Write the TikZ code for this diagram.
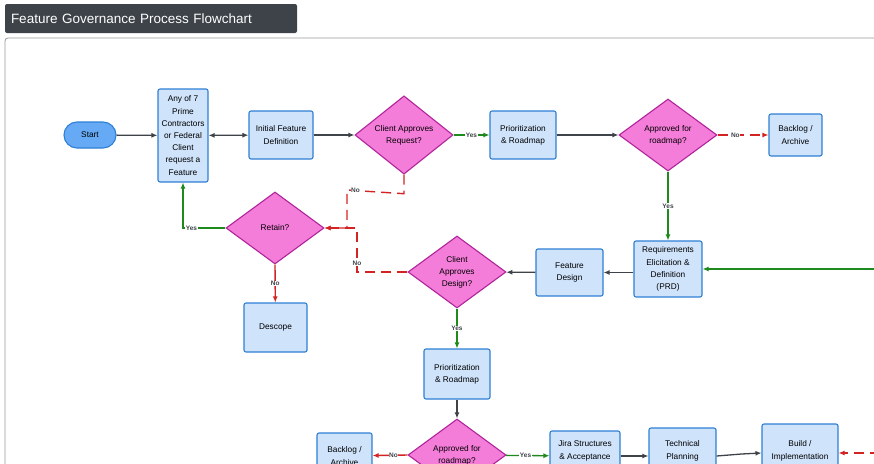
\documentclass[tikz,border=0pt]{standalone}
\usepackage{fontspec}
\setmainfont{Liberation Sans}
\usetikzlibrary{shapes.geometric,arrows.meta}
\definecolor{bfill}{HTML}{CFE3FB}
\definecolor{sfill}{HTML}{66AAF5}
\definecolor{bline}{HTML}{2F7FD6}
\definecolor{dfill}{HTML}{F57DDA}
\definecolor{dline}{HTML}{B0249A}
\definecolor{gline}{HTML}{1E8A1E}
\definecolor{rline}{HTML}{D42323}
\definecolor{aline}{HTML}{3D4349}
\begin{document}
\begin{tikzpicture}[x=1pt,y=-1pt,
 box/.style={draw=bline,fill=bfill,line width=1.1pt,rounded corners=2pt,align=center,font=\fontsize{8.3}{12.2}\selectfont,inner sep=0pt},
 dia/.style={diamond,draw=dline,fill=dfill,line width=1.1pt,align=center,font=\fontsize{8.3}{12}\selectfont,minimum width=98pt,minimum height=72pt,inner sep=0pt},
 arr/.style={draw=aline,line width=1.3pt,-{Latex[length=6pt,width=5pt]}},
 yes/.style={draw=gline,line width=1.3pt,-{Latex[length=6pt,width=5pt]}},
 no/.style={draw=rline,line width=1.4pt,dash pattern=on 10pt off 6pt,-{Latex[length=6pt,width=5pt]}},
 lab/.style={fill=white,inner sep=0.5pt,font=\fontsize{6.5}{7}\selectfont\bfseries,text=aline}]
\useasboundingbox (0,0) rectangle (874,463);
\clip (0,0) rectangle (874,463);
\fill[white] (0,0) rectangle (874,463);
\node[fill=aline,rounded corners=2pt,text=white,minimum width=292pt,minimum height=29pt,inner sep=0pt,font=\fontsize{13.5}{15}\selectfont,text width=280pt,align=left] (title) at (151,18.5) {Feature Governance Process Flowchart};
\draw[draw=gray!80,line width=0.8pt,rounded corners=3pt] (5,38) rectangle (890,480);
\node[draw=bline,fill=sfill,line width=1.1pt,rounded corners=13pt,minimum width=52pt,minimum height=26pt,font=\fontsize{8.3}{10}\selectfont,inner sep=0pt] (start) at (90,135) {Start};
\node[box,minimum width=50pt,minimum height=93pt] (any) at (183,135.5) {Any of 7\\Prime\\Contractors\\or Federal\\Client\\request a\\Feature};
\node[box,minimum width=64pt,minimum height=48pt] (init) at (281,135) {Initial Feature\\Definition};
\node[dia] (car) at (404,135) {Client Approves\\Request?};
\node[box,minimum width=66pt,minimum height=48pt] (pr1) at (523,135) {Prioritization\\\& Roadmap};
\node[dia] (afr1) at (668,135) {Approved for\\roadmap?};
\node[box,minimum width=53pt,minimum height=42pt] (bl1) at (795.5,135) {Backlog /\\Archive};
\node[dia] (ret) at (275,228) {Retain?};
\node[box,minimum width=63pt,minimum height=49pt] (des) at (275.5,327.5) {Descope};
\node[dia] (cad) at (457,272) {Client\\Approves\\Design?};
\node[box,minimum width=67pt,minimum height=47pt] (fd) at (569.5,272.5) {Feature\\Design};
\node[box,minimum width=68pt,minimum height=56pt] (req) at (668,269) {Requirements\\Elicitation \&\\Definition\\(PRD)};
\node[box,minimum width=66pt,minimum height=50pt] (pr2) at (457,374) {Prioritization\\\& Roadmap};
\node[dia] (afr2) at (457,455) {Approved for\\roadmap?};
\node[box,minimum width=55pt,minimum height=46pt] (bl2) at (344.5,456) {Backlog /\\Archive};
\node[box,minimum width=70pt,minimum height=50pt] (jira) at (585,456) {Jira Structures\\\& Acceptance\\\phantom{x}};
\node[box,minimum width=67pt,minimum height=56pt] (tech) at (682.5,456) {Technical\\Planning\\\phantom{x}};
\node[box,minimum width=76pt,minimum height=64pt] (build) at (800,456) {Build /\\Implementation\\\phantom{x}};
\coordinate (rin1) at (880,269);
\coordinate (rin2) at (880,453);
\draw[arr] (start) -- (any);
\draw[arr,{Latex[length=6pt,width=5pt]}-{Latex[length=6pt,width=5pt]}] (any) -- (init);
\draw[arr] (init) -- (car);
\draw[yes] (car) -- node[lab]{Yes} (pr1);
\draw[arr] (pr1) -- (afr1);
\draw[no] (afr1.east) -- node[lab,pos=0.35]{No} (bl1);
\draw[yes] (afr1) -- node[lab]{Yes} (req);
\draw[yes] (rin1) -- (req);
\draw[arr] (req.west|-fd) -- (fd);
\draw[arr] (fd) -- (cad);
\draw[yes] (cad) -- node[lab]{Yes} (pr2);
\draw[arr] (pr2) -- (afr2);
\draw[no,dash pattern=] (afr2.west) -- node[lab,pos=0.4]{No} (bl2);
\draw[yes] (afr2) -- node[lab,pos=0.45]{Yes} (jira);
\draw[arr] (jira) -- (tech);
\draw[arr] (tech.east) -- ++(25,-2) -- (build.west|-0,453);
\draw[no] (rin2) -- (build.east|-rin2);
\draw[no] (car.south) -- ++(0,19) -- node[lab,pos=0.85]{No} (347,190) -- (347,228) -- (ret.east);
\draw[no] (cad.west) -- (357,272) -- node[lab,pos=0.2]{No} (357,228) -- (ret.east);
\draw[yes] (ret.west) -- node[lab,pos=0.8]{Yes} (183,228) -- (any.south);
\draw[no,dash pattern=] (ret.south) -- node[lab]{No} (des);
\end{tikzpicture}
\end{document}
